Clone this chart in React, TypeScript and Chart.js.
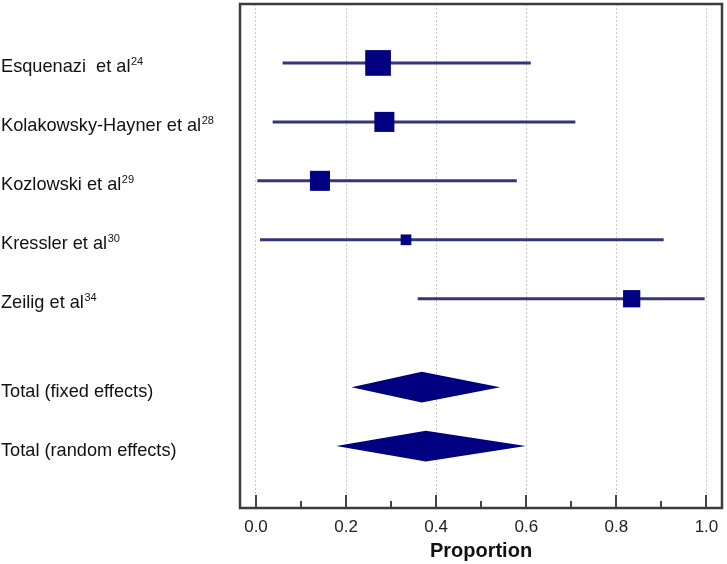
import React, { useEffect, useRef } from 'react';
import { Chart, registerables } from 'chart.js';
Chart.register(...registerables);

const studyNames = ['Esquenazi  et al', 'Kolakowsky-Hayner et al', 'Kozlowski et al', 'Kressler et al', 'Zeilig et al'];
const studyRefs = ['24', '28', '29', '30', '34'];
const studyEstimates = [0.271, 0.285, 0.142, 0.333, 0.834];
const studyLower = [0.059, 0.037, 0.003, 0.009, 0.359];
const studyUpper = [0.61, 0.709, 0.579, 0.905, 0.996];
const studyWeights = [35.2, 21.4, 21.4, 6.1, 15.9];

const totalNames = ['Total (fixed effects)', 'Total (random effects)'];
const totalEstimates = [0.368, 0.377];
const totalLower = [0.212, 0.178];
const totalUpper = [0.542, 0.599];

const xTickValues = [0, 0.2, 0.4, 0.6, 0.8, 1.0];
const xTickLabels = ['0.0', '0.2', '0.4', '0.6', '0.8', '1.0'];
const xMinorTickValues = [0.1, 0.3, 0.5, 0.7, 0.9];
const xAxisTitle = 'Proportion';

const FONT = "'Liberation Sans', Arial, sans-serif";
const NAVY = '#000080';
const LINE = '#34347a';

const studyRows = studyNames.map((_, i) => i);
const totalRows = totalNames.map((_, j) => studyNames.length + 0.5 + j);

const forestPlugin = {
  id: 'forest',
  beforeDatasetsDraw(chart: any) {
    const { ctx } = chart;
    const xs = chart.scales.x;
    const ys = chart.scales.y;
    ctx.save();
    ctx.fillStyle = NAVY;
    const h = 0.26;
    totalRows.forEach((r, j) => {
      ctx.beginPath();
      ctx.moveTo(xs.getPixelForValue(totalLower[j]), ys.getPixelForValue(r));
      ctx.lineTo(xs.getPixelForValue(totalEstimates[j]), ys.getPixelForValue(r - h));
      ctx.lineTo(xs.getPixelForValue(totalUpper[j]), ys.getPixelForValue(r));
      ctx.lineTo(xs.getPixelForValue(totalEstimates[j]), ys.getPixelForValue(r + h));
      ctx.closePath();
      ctx.fill();
    });
    ctx.restore();
  },
  afterDraw(chart: any) {
    const { ctx, chartArea } = chart;
    const xs = chart.scales.x;
    const ys = chart.scales.y;
    ctx.save();
    ctx.strokeStyle = '#444';
    ctx.lineWidth = 2;
    const drawTick = (v: number, len: number) => {
      const px = Math.round(xs.getPixelForValue(v));
      ctx.beginPath();
      ctx.moveTo(px, chartArea.bottom);
      ctx.lineTo(px, chartArea.bottom - len);
      ctx.stroke();
    };
    xTickValues.forEach((v) => drawTick(v, 13));
    xMinorTickValues.forEach((v) => drawTick(v, 7));
    ctx.strokeStyle = '#3c3c3c';
    ctx.lineWidth = 2.5;
    ctx.strokeRect(chartArea.left, chartArea.top, chartArea.right - chartArea.left, chartArea.bottom - chartArea.top);
    ctx.fillStyle = '#111';
    ctx.textBaseline = 'alphabetic';
    ctx.textAlign = 'left';
    const drawLabel = (text: string, sup: string, r: number) => {
      const y = ys.getPixelForValue(r) + 9.5;
      ctx.font = `18.2px ${FONT}`;
      ctx.fillText(text, 1, y);
      if (sup) {
        const w = ctx.measureText(text).width;
        ctx.font = `11px ${FONT}`;
        ctx.fillText(sup, 1 + w + 0.5, y - 7.5);
      }
    };
    studyNames.forEach((n, i) => drawLabel(n, studyRefs[i], studyRows[i]));
    totalNames.forEach((n, j) => drawLabel(n, '', totalRows[j]));
    ctx.restore();
  },
};

export default function App() {
  const ref = useRef<HTMLCanvasElement>(null);
  useEffect(() => {
    if (!ref.current) return;
    const ciDatasets = studyNames.map((n, i) => ({
      type: 'line' as const,
      label: n,
      data: [
        { x: studyLower[i], y: studyRows[i] },
        { x: studyUpper[i], y: studyRows[i] },
      ],
      borderColor: LINE,
      borderWidth: 3,
      pointRadius: 0,
      fill: false,
      order: 2,
    }));
    const squareDataset = {
      type: 'scatter' as const,
      label: 'estimates',
      data: studyEstimates.map((e, i) => ({ x: e, y: studyRows[i] })),
      pointStyle: 'rect',
      pointRadius: studyWeights.map((w) => (Math.sqrt(w) * 4.33) / (2 * Math.SQRT1_2)),
      backgroundColor: NAVY,
      borderColor: NAVY,
      borderWidth: 0,
      order: 0,
    };
    const chart = new Chart(ref.current, {
      type: 'scatter',
      data: { datasets: [squareDataset as any, ...ciDatasets] },
      options: {
        responsive: false,
        animation: false,
        layout: { autoPadding: false, padding: { left: 240, top: 4, right: 5, bottom: 0 } },
        plugins: { legend: { display: false }, tooltip: { enabled: false } },
        scales: {
          x: {
            type: 'linear',
            min: -0.0355,
            max: 1.0345,
            afterBuildTicks: (scale: any) => {
              scale.ticks = xTickValues.map((v) => ({ value: v }));
            },
            afterFit: (scale: any) => {
              scale.height = 56;
              scale.paddingLeft = 0;
              scale.paddingRight = 0;
            },
            grid: { color: '#c8c8c8', lineWidth: 1, drawTicks: false },
            border: { display: false, dash: [2, 2] },
            ticks: {
              padding: 9,
              color: '#222',
              font: { family: FONT, size: 17 },
              callback: (v: any) => xTickLabels[xTickValues.indexOf(Number(v))] ?? '',
              maxRotation: 0,
            },
            title: {
              display: true,
              text: xAxisTitle,
              color: '#111',
              font: { family: FONT, size: 20, weight: 'bold' },
              padding: { top: 0, bottom: 1 },
            },
          },
          y: {
            type: 'linear',
            reverse: true,
            min: -1,
            max: totalRows[totalRows.length - 1] + 1.05,
            display: false,
          },
        },
      },
      plugins: [forestPlugin],
    });
    return () => chart.destroy();
  }, []);
  return (
    <div style={{ position: 'absolute', left: 0, top: 0, background: '#fff' }}>
      <canvas ref={ref} width={727} height={564} style={{ display: 'block' }} />
    </div>
  );
}
